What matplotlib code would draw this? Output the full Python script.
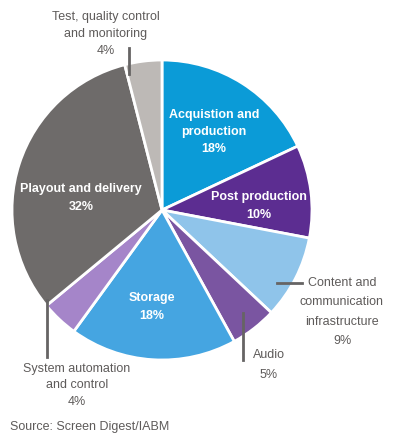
import matplotlib
matplotlib.use("Agg")
import matplotlib.pyplot as plt
from matplotlib.lines import Line2D

plt.rcParams['font.family'] = ['Liberation Sans', 'DejaVu Sans']

# slices, clockwise from 12 o'clock
segments = ['Acquistion and production', 'Post production',
            'Content and communication infrastructure', 'Audio', 'Storage',
            'System automation and control', 'Playout and delivery',
            'Test, quality control and monitoring']
shares = [18, 10, 9, 5, 18, 4, 32, 4]
colors = ['#0b9bd7', '#5c2d91', '#8fc4ea', '#7a55a1', '#45a5e1',
          '#a585c9', '#6e6b6a', '#bdb9b6']

W, H = 398, 440
fig = plt.figure(figsize=(W / 100, H / 100), dpi=100)


def px(x, y):
    return x / W, 1 - y / H


cx, cy, r = 162, 210, 150
ax = fig.add_axes([(cx - r) / W, (H - cy - r) / H, 2 * r / W, 2 * r / H])
ax.pie(shares, colors=colors, startangle=90, counterclock=False,
       wedgeprops=dict(edgecolor='white', linewidth=2))
ax.set_xlim(-1, 1)
ax.set_ylim(-1, 1)
ax.axis('off')

grey = '#5e5b5a'


def label(x, y, s, color=grey, bold=False, fs=9, ls=1.6):
    fig.text(*px(x, y), s, ha='center', va='center', color=color,
             fontsize=fs, fontweight='bold' if bold else 'normal',
             linespacing=ls)


def leader(x0, y0, x1, y1):
    (a, b), (c, d) = px(x0, y0), px(x1, y1)
    fig.add_artist(Line2D([a, c], [b, d], color='#666464', lw=2,
                          transform=fig.transFigure))


# inside labels
label(214, 132, 'Acquistion and\nproduction\n18%', 'white', True)
label(259, 206, 'Post production\n10%', 'white', True)
label(152, 307, 'Storage\n18%', 'white', True)
label(81, 198, 'Playout and delivery\n32%', 'white', True, ls=1.75)

# outside labels
label(106, 34, 'Test, quality control\nand monitoring\n4%', ls=1.55)
leader(129, 48, 129, 74)
label(342, 312, 'Content and\ncommunication\ninfrastructure\n9%', ls=1.8)
leader(277, 283, 302, 283)
label(269, 365, 'Audio\n5%', ls=1.8)
leader(243, 313, 243, 360)
label(77, 385, 'System automation\nand control\n4%', ls=1.5)
leader(47, 300, 47, 357)

fig.text(*px(10, 427), 'Source: Screen Digest/IABM', ha='left', va='center',
         color=grey, fontsize=9)

fig.savefig('out.png', dpi=100)
